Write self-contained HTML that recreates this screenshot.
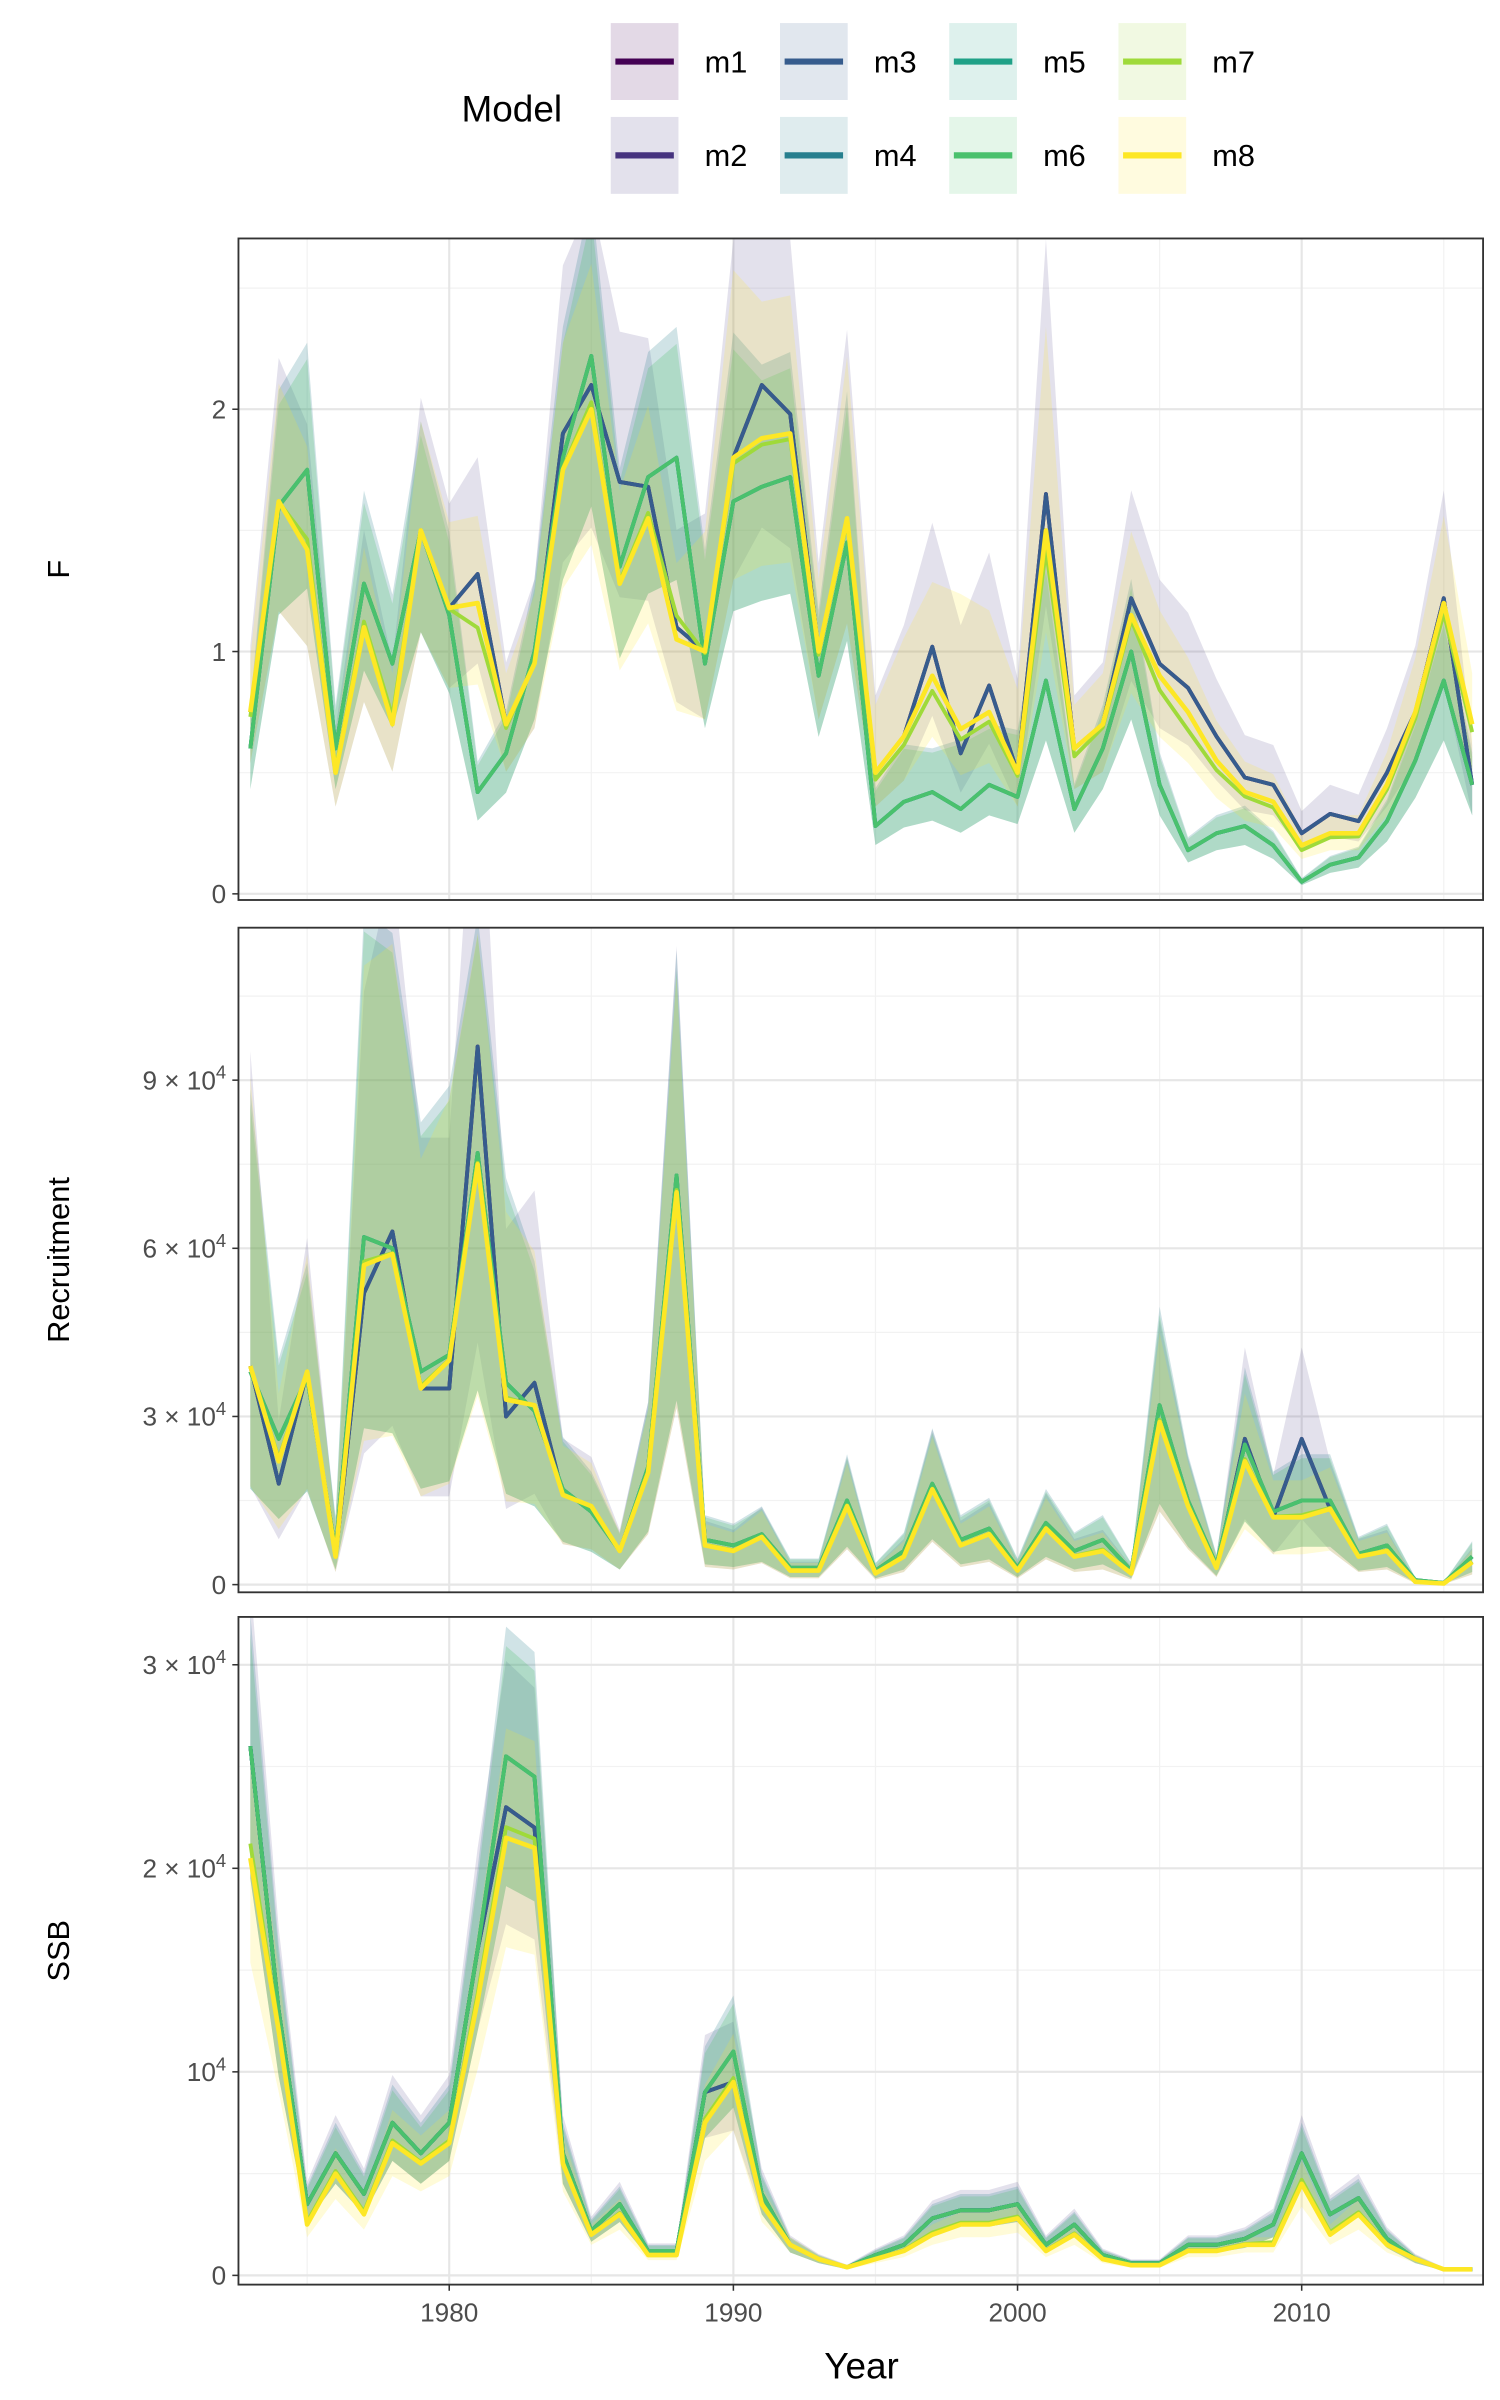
<!DOCTYPE html>
<html><head><meta charset="utf-8"><style>
html,body{margin:0;padding:0;background:#fff}
svg{display:block}
text{font-family:"Liberation Sans",Arial,sans-serif}
</style></head><body>
<svg id="s" width="1500" height="2400" viewBox="0 0 975 1560" xmlns="http://www.w3.org/2000/svg">
<rect width="975" height="1560" fill="#fff"/>
<g id="g"></g>
<text x="300" y="79" font-size="24" fill="#000">Model</text>
<g font-size="20" fill="#000">
<rect x="397" y="15" width="44" height="50" fill="#440154" opacity="0.15"/><line x1="400" y1="40" x2="438" y2="40" stroke="#440154" stroke-width="4"/><text x="458" y="47">m1</text>
<rect x="397" y="76" width="44" height="50" fill="#46337E" opacity="0.15"/><line x1="400" y1="101" x2="438" y2="101" stroke="#46337E" stroke-width="4"/><text x="458" y="108">m2</text>
<rect x="507" y="15" width="44" height="50" fill="#365C8D" opacity="0.15"/><line x1="510" y1="40" x2="548" y2="40" stroke="#365C8D" stroke-width="4"/><text x="568" y="47">m3</text>
<rect x="507" y="76" width="44" height="50" fill="#277F8E" opacity="0.15"/><line x1="510" y1="101" x2="548" y2="101" stroke="#277F8E" stroke-width="4"/><text x="568" y="108">m4</text>
<rect x="617" y="15" width="44" height="50" fill="#1FA187" opacity="0.15"/><line x1="620" y1="40" x2="658" y2="40" stroke="#1FA187" stroke-width="4"/><text x="678" y="47">m5</text>
<rect x="617" y="76" width="44" height="50" fill="#4AC16D" opacity="0.15"/><line x1="620" y1="101" x2="658" y2="101" stroke="#4AC16D" stroke-width="4"/><text x="678" y="108">m6</text>
<rect x="727" y="15" width="44" height="50" fill="#9FDA3A" opacity="0.15"/><line x1="730" y1="40" x2="768" y2="40" stroke="#9FDA3A" stroke-width="4"/><text x="788" y="47">m7</text>
<rect x="727" y="76" width="44" height="50" fill="#FDE725" opacity="0.15"/><line x1="730" y1="101" x2="768" y2="101" stroke="#FDE725" stroke-width="4"/><text x="788" y="108">m8</text>
</g>
<text x="560" y="1546" font-size="24" text-anchor="middle">Year</text>
</svg>
<script>
var NS="http://www.w3.org/2000/svg",G=document.getElementById("g");
function el(t,a,txt){var e=document.createElementNS(NS,t);for(var k in a)e.setAttribute(k,a[k]);if(txt!==undefined)e.textContent=txt;G.appendChild(e);return e;}
var L=155,R=964,Y0=1973;
function X(y){return 292+(y-1980)*18.47;}
var yel={F:[0.75,1.62,1.42,0.5,1.1,0.7,1.5,1.18,1.2,0.7,0.95,1.75,2.0,1.28,1.55,1.05,1.0,1.8,1.88,1.9,1.0,1.55,0.5,0.65,0.9,0.68,0.75,0.5,1.5,0.6,0.7,1.15,0.9,0.75,0.55,0.42,0.38,0.2,0.25,0.25,0.45,0.75,1.2,0.7],
R:[3.9,2.2,3.8,0.5,5.7,5.9,3.5,4.0,7.5,3.3,3.2,1.6,1.4,0.6,2.0,7.0,0.7,0.6,0.85,0.25,0.25,1.4,0.2,0.5,1.7,0.7,0.9,0.25,1.0,0.5,0.6,0.2,2.9,1.4,0.3,2.2,1.2,1.2,1.35,0.5,0.6,0.05,0.02,0.4],
S:[2.05,1.2,0.25,0.5,0.3,0.65,0.55,0.65,1.35,2.15,2.1,0.55,0.2,0.3,0.1,0.1,0.75,0.95,0.35,0.15,0.08,0.04,0.08,0.12,0.2,0.25,0.25,0.28,0.12,0.2,0.08,0.05,0.05,0.12,0.12,0.15,0.15,0.45,0.2,0.3,0.15,0.08,0.03,0.03]};
var grn={F:[0.6,1.6,1.75,0.6,1.28,0.95,1.5,1.15,0.42,0.58,1.0,1.8,2.22,1.35,1.72,1.8,0.95,1.62,1.68,1.72,0.9,1.45,0.28,0.38,0.42,0.35,0.45,0.4,0.88,0.35,0.6,1.0,0.45,0.18,0.25,0.28,0.2,0.05,0.12,0.15,0.3,0.55,0.88,0.45],
R:[3.8,2.6,3.7,0.6,6.2,6.0,3.8,4.1,7.7,3.6,3.1,1.7,1.3,0.6,2.1,7.3,0.8,0.7,0.9,0.3,0.3,1.5,0.25,0.6,1.8,0.8,1.0,0.3,1.1,0.6,0.8,0.25,3.2,1.5,0.35,2.5,1.3,1.5,1.5,0.55,0.7,0.08,0.03,0.5],
S:[2.6,1.3,0.35,0.6,0.4,0.75,0.6,0.75,1.6,2.55,2.45,0.6,0.22,0.35,0.12,0.12,0.9,1.1,0.4,0.15,0.08,0.04,0.1,0.15,0.28,0.32,0.32,0.35,0.15,0.25,0.1,0.06,0.06,0.15,0.15,0.18,0.25,0.6,0.3,0.38,0.18,0.08,0.03,0.03]};
var drk={F:yel.F.slice(),R:yel.R.slice(),S:grn.S.slice()};
[[1981,1.32],[1986,1.7],[1987,1.68],[1988,1.1],[1991,2.1],[1992,1.98],[1997,1.02],[1998,0.58],[1999,0.86],[2001,1.65],[2004,1.22],[2005,0.95],[2006,0.85],[2007,0.65],[2008,0.48],[2009,0.45],[2010,0.25],[2011,0.33],[2012,0.3],[2013,0.5],[2015,1.22],[2016,0.45],[1984,1.9],[1985,2.1]].forEach(function(p){drk.F[p[0]-Y0]=p[1];});
[[1981,9.6],[1982,3.0],[1983,3.6],[2010,2.6],[1977,5.2],[1978,6.3],[1980,3.5],[1974,1.8],[2008,2.6]].forEach(function(p){drk.R[p[0]-Y0]=p[1];});
[[1982,2.3],[1983,2.2],[1990,0.95]].forEach(function(p){drk.S[p[0]-Y0]=p[1];});
var boost={R:{1973:1.5,1976:1.3,1977:1.25,1978:1.25,1979:1.4,1980:1.4,1981:1.0,1982:1.3,1983:1.2},F:{1989:1.15,1990:1.1,1994:1.1,1995:1.2,1996:1.25,1997:1.1,1998:1.4,1999:1.2,2000:1.3,2001:1.2}};
var panels=[
 {k:"F",top:155,bot:585,y0:581,sc:157.5,max:2.7,ticks:[[0,"0"],[1,"1"],[2,"2"]],minor:[0.5,1.5,2.5],lab:"F"},
 {k:"R",top:603,bot:1035,y0:1030,sc:109.3/3,max:11.6,ticks:[[0,"0"],[3,"3"],[6,"6"],[9,"9"]],minor:[1.5,4.5,7.5,10.5],lab:"Recruitment",sup:1},
 {k:"S",top:1051,bot:1485,y0:1479,sc:132.3,max:3.2,ticks:[[0,"0"],[1,"e"],[2,"2"],[3,"3"]],minor:[0.5,1.5,2.5],lab:"SSB",sup:2}];
panels.forEach(function(P){
 var cp="c"+P.k;var d=el("clipPath",{id:cp});var r=document.createElementNS(NS,"rect");r.setAttribute("x",L);r.setAttribute("y",P.top);r.setAttribute("width",R-L);r.setAttribute("height",P.bot-P.top);d.appendChild(r);
 function Yv(v){return P.y0-v*P.sc;}
 P.minor.forEach(function(v){el("line",{x1:L,x2:R,y1:Yv(v),y2:Yv(v),stroke:"#f2f2f2","stroke-width":0.8});});
 for(var y=1975;y<=2015;y+=10)el("line",{x1:X(y),x2:X(y),y1:P.top,y2:P.bot,stroke:"#f2f2f2","stroke-width":0.8});
 P.ticks.forEach(function(t){el("line",{x1:L,x2:R,y1:Yv(t[0]),y2:Yv(t[0]),stroke:"#e6e6e6","stroke-width":1.4});
  el("line",{x1:L-4,x2:L,y1:Yv(t[0]),y2:Yv(t[0]),stroke:"#333","stroke-width":1});
  var tx;
  if(t[0]==0||!P.sup){el("text",{x:L-8,y:Yv(t[0])+6,"font-size":17,"text-anchor":"end",fill:"#4d4d4d"},t[1]);}
  else{tx=el("text",{x:L-8,y:Yv(t[0])+6,"font-size":17,"text-anchor":"end",fill:"#4d4d4d"});
   var lead=(P.k=="S"&&t[0]==1)?"10":(t[1]+" × 10");
   tx.appendChild(document.createTextNode(lead));var ts=document.createElementNS(NS,"tspan");ts.setAttribute("dy","-7");ts.setAttribute("font-size","12");ts.textContent="4";tx.appendChild(ts);}
 });
 for(var y=1980;y<=2010;y+=10)el("line",{x1:X(y),x2:X(y),y1:P.top,y2:P.bot,stroke:"#e6e6e6","stroke-width":1.4});
 var g=document.createElementNS(NS,"g");g.setAttribute("clip-path","url(#"+cp+")");G.appendChild(g);
 function band(lo,hi,col,op){var s="";for(var i=0;i<44;i++)s+=(i?"L":"M")+X(Y0+i)+","+Yv(hi[i]);for(var i=43;i>=0;i--)s+="L"+X(Y0+i)+","+Yv(lo[i]);var p=document.createElementNS(NS,"path");p.setAttribute("d",s+"Z");p.setAttribute("fill",col);p.setAttribute("opacity",op);g.appendChild(p);}
 function line(a,col,w){var s="";for(var i=0;i<44;i++)s+=(i?"L":"M")+X(Y0+i)+","+Yv(a[i]);var p=document.createElementNS(NS,"path");p.setAttribute("d",s);p.setAttribute("fill","none");p.setAttribute("stroke",col);p.setAttribute("stroke-width",w);p.setAttribute("stroke-linejoin","round");g.appendChild(p);}
 var a=yel[P.k],b=grn[P.k],c=drk[P.k];
 var fu=P.k=="F"?1.3:P.k=="R"?1.55:1.25, fl=P.k=="F"?0.72:P.k=="R"?0.45:0.75;
 var bs=boost[P.k]||{};
 function up(v,i){return v*fu*(bs[Y0+i]||1);}
 band(c.map(function(v){return v*fl}),c.map(function(v,i){return up(v,i)*1.05}),"#46337E",0.15);
 band(b.map(function(v){return v*fl}),b.map(function(v,i){return up(v,i)}),"#277F8E",0.22);
 band(b.map(function(v){return v*fl}),b.map(function(v,i){return up(v,i)*0.97}),"#4AC16D",0.25);
 band(a.map(function(v){return v*fl}),a.map(function(v,i){return up(v,i)}),"#FDE725",0.18);
 line(c,"#440154",2.5);line(c,"#365C8D",2.5);line(b,"#277F8E",2.5);line(b,"#1FA187",2.5);line(b,"#4AC16D",2.5);
 line(a.map(function(v,i){return (v+b[i]*0.15)/1.15}),"#9FDA3A",2.5);line(a,"#FDE725",3);
 el("rect",{x:L,y:P.top,width:R-L,height:P.bot-P.top,fill:"none",stroke:"#333","stroke-width":1.2});
 var my=(P.top+P.bot)/2;el("text",{x:45,y:my,"font-size":20,"text-anchor":"middle",transform:"rotate(-90 45 "+my+")"},P.lab);
});
for(var y=1980;y<=2010;y+=10){el("line",{x1:X(y),x2:X(y),y1:1485,y2:1489,stroke:"#333"});el("text",{x:X(y),y:1509,"font-size":17,"text-anchor":"middle",fill:"#4d4d4d"},String(y));}
</script>
</body></html>
